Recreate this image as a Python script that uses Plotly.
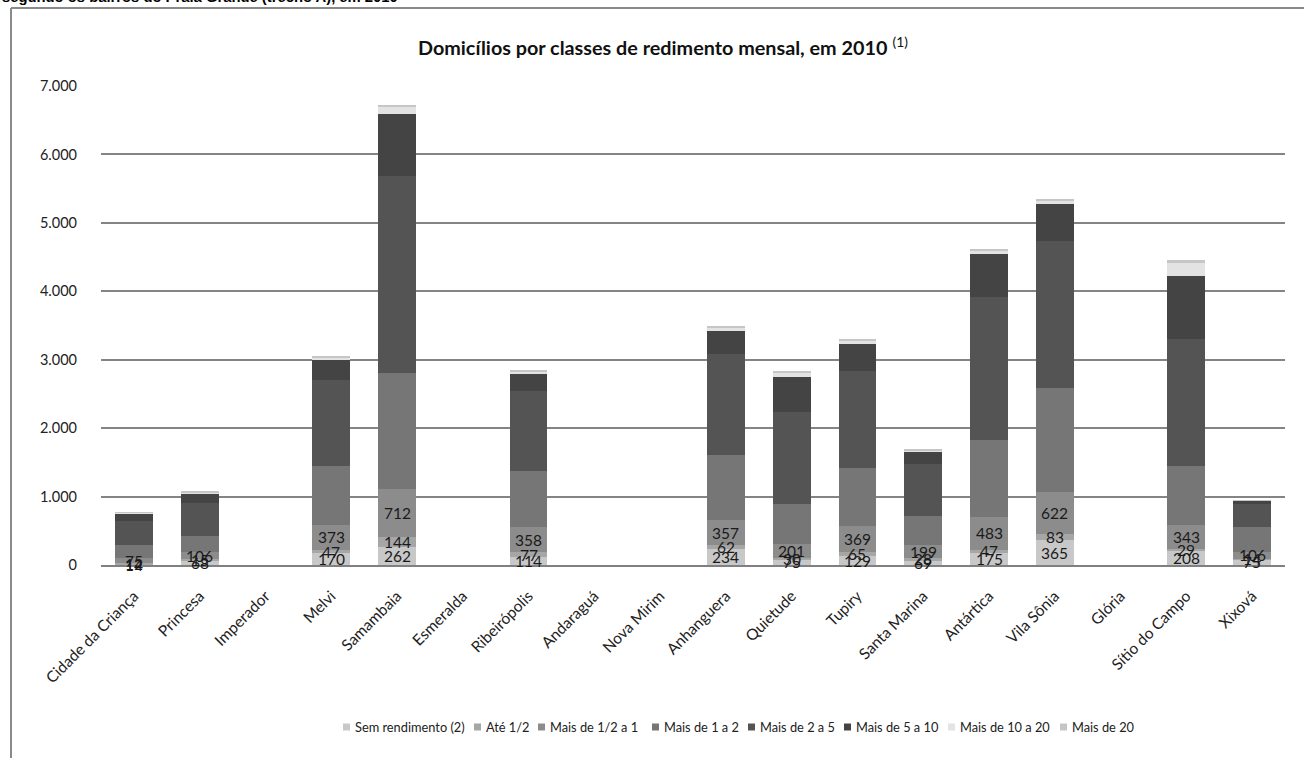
import plotly.graph_objects as go

# Bairros (eixo X)
bairros = ["Cidade da Criança", "Princesa", "Imperador", "Melvi", "Samambaia", "Esmeralda",
           "Ribeirópolis", "Andaraguá", "Nova Mirim", "Anhanguera", "Quietude", "Tupiry",
           "Santa Marina", "Antártica", "Vila Sônia", "Glória", "Sítio do Campo", "Xixová"]

# Domicílios por classe de rendimento mensal (None = bairro sem dados)
sem_rendimento = [14, 68, None, 170, 262, None, 114, None, None, 234, 75, 129, 69, 175, 365, None, 208, 75]
ate_meio = [12, 15, None, 47, 144, None, 77, None, None, 62, 30, 65, 28, 47, 83, None, 29, 14]
meio_a_1 = [75, 106, None, 373, 712, None, 358, None, None, 357, 201, 369, 199, 483, 622, None, 343, 106]
de_1_a_2 = [191, 235, None, 850, 1682, None, 821, None, None, 957, 585, 857, 420, 1125, 1510, None, 860, 365]
de_2_a_5 = [350, 486, None, 1270, 2885, None, 1180, None, None, 1480, 1340, 1420, 764, 2080, 2160, None, 1860, 330]
de_5_a_10 = [115, 138, None, 280, 905, None, 240, None, None, 330, 510, 390, 170, 630, 530, None, 920, 50]
de_10_a_20 = [6, 18, None, 35, 115, None, 40, None, None, 45, 70, 55, 30, 60, 60, None, 200, 5]
mais_de_20 = [2, 5, None, 15, 15, None, 10, None, None, 15, 19, 15, 10, 20, 20, None, 30, 2]

nomes = ["Sem rendimento (2)", "Até 1/2", "Mais de 1/2 a 1", "Mais de 1 a 2",
         "Mais de 2 a 5", "Mais de 5 a 10", "Mais de 10 a 20", "Mais de 20"]
valores = [sem_rendimento, ate_meio, meio_a_1, de_1_a_2, de_2_a_5, de_5_a_10, de_10_a_20, mais_de_20]
cores = ["#c8c8c8", "#a6a6a6", "#8c8c8c", "#767676", "#545454", "#444444", "#e3e3e3", "#c6c6c6"]

# only the first three classes carry data labels
com_rotulo = 3

y_ticks = [0, 1000, 2000, 3000, 4000, 5000, 6000, 7000]

FONT = "Lato"

fig = go.Figure()
for nome, vals, cor in zip(nomes, valores, cores):
    fig.add_trace(go.Bar(
        x=bairros, y=vals, name=nome,
        marker=dict(color=cor, line=dict(width=0)),
        hoverinfo="x+y+name", showlegend=False,
    ))

# value labels centred in each of the lower segments
annotations = []
base = [0] * len(bairros)
for k, vals in enumerate(valores):
    for i, v in enumerate(vals):
        if v is None:
            continue
        if k < com_rotulo:
            annotations.append(dict(
                x=bairros[i], y=base[i] + v / 2, xref="x", yref="y",
                text=str(v), showarrow=False,
                font=dict(family=FONT, size=15.5, color="#1a1a1a"),
            ))
        base[i] += v

L, R, T, B = 101, 19, 86, 193
W, H = 1304, 758
pw, ph = W - L - R, H - T - B


def px_x(p):
    return (p - L) / pw


def px_y(p):
    return (H - B - p) / ph


annotations.append(dict(
    x=px_x(663), y=px_y(46), xref="paper", yref="paper",
    text="<b>Domicílios por classes de redimento mensal, em 2010</b> <sup>(1)</sup>",
    showarrow=False, xanchor="center", yanchor="middle",
    font=dict(family=FONT, size=19.8, color="#111111"),
))
annotations.append(dict(
    x=px_x(0), y=px_y(7), xref="paper", yref="paper",
    text="<b>segundo os bairros do Praia Grande (trecho A), em 2010</b>",
    showarrow=False, xanchor="left", yanchor="bottom",
    font=dict(family="Liberation Sans", size=14.8, color="#000000"),
))

shapes = [
    dict(type="line", xref="paper", yref="paper",
         x0=px_x(11), x1=px_x(1320), y0=px_y(8), y1=px_y(8),
         line=dict(color="#8a8a8a", width=2)),
    dict(type="line", xref="paper", yref="paper",
         x0=px_x(11), x1=px_x(11), y0=px_y(8), y1=px_y(770),
         line=dict(color="#8a8a8a", width=2)),
]

# legend row: colour key square followed by the class name
legenda_x = [343, 474, 538, 652, 748, 844, 948, 1060]
legenda_y = 727
for nome, cor, lx in zip(nomes, cores, legenda_x):
    shapes.append(dict(
        type="rect", xref="paper", yref="paper",
        x0=px_x(lx), x1=px_x(lx + 7), y0=px_y(legenda_y - 3.5), y1=px_y(legenda_y + 3.5),
        fillcolor=cor, line=dict(width=0),
    ))
    annotations.append(dict(
        x=px_x(lx + 10), y=px_y(legenda_y), xref="paper", yref="paper",
        text=nome, showarrow=False, xanchor="left", yanchor="middle",
        font=dict(family=FONT, size=12.8, color="#222222"),
    ))

fig.update_layout(
    barmode="stack",
    bargap=0.427,
    width=W, height=H, autosize=False,
    margin=dict(l=L, r=R, t=T, b=B, pad=0),
    paper_bgcolor="white", plot_bgcolor="white",
    separators=",.",
    font=dict(family=FONT, color="#222222"),
    showlegend=False,
    annotations=annotations,
    shapes=shapes,
)
fig.update_xaxes(
    type="category", tickangle=-45,
    tickfont=dict(family=FONT, size=15.5, color="#222222"),
    showline=True, linecolor="#808080", linewidth=2,
    showgrid=False, ticks="",
    ticklabelstandoff=14,
)
fig.update_yaxes(
    range=[0, 7000], tickvals=y_ticks, tickformat=",d",
    tickfont=dict(family=FONT, size=14.5, color="#222222"),
    showgrid=True, gridcolor="#848484", gridwidth=1.6,
    zeroline=False, showline=False, ticks="",
    ticklabelstandoff=23,
)

fig.write_html("out.html")
